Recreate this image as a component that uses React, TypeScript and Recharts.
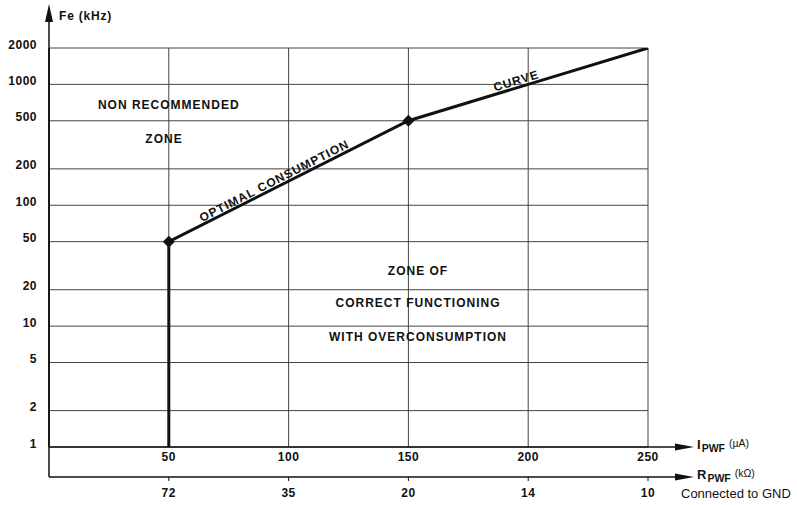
import React from "react";
import { ComposedChart, Line, XAxis, YAxis, CartesianGrid, ReferenceDot } from "recharts";

// I_PWF (µA) vs Fe (kHz), optimal consumption curve
const iPwf = [50, 50, 150, 250];
const feKhz = [1, 50, 500, 2000];
const marked = [false, true, true, false];

const xTicks = [50, 100, 150, 200, 250];
const rPwfLabels = ["72", "35", "20", "14", "10"];
const yTicks = [1, 2, 5, 10, 20, 50, 100, 200, 500, 1000, 2000];

const data = iPwf.map((i, k) => ({ i, fe: feKhz[k], mark: marked[k] }));

const W = 797;
const H = 505;
const M = { top: 48, right: 149, left: 0, bottom: 0 };
const Y_AXIS_W = 49;
const X1_H = 30;
const X2_H = 28;
const LEFT = M.left + Y_AXIS_W;
const RIGHT = W - M.right;
const BOTTOM = H - M.bottom - X1_H - X2_H;
const AXIS2 = BOTTOM + X1_H;

const FONT = '"Liberation Sans", Arial, Helvetica, sans-serif';
const INK = "#111";

const textStyle = {
  fontFamily: FONT,
  fontWeight: 700,
  fontSize: 12,
  fill: INK,
};

function YTick({ x, y, payload }: any) {
  return (
    <text x={x} y={y + 0.5} textAnchor="end" style={{ ...textStyle, letterSpacing: 0.5 }}>
      {payload.value}
    </text>
  );
}

function XTick({ x, y, payload }: any) {
  return (
    <text x={x} y={y + 14} textAnchor="middle" style={{ ...textStyle, letterSpacing: 0.5 }}>
      {payload.value}
    </text>
  );
}

function RTick({ x, y, payload }: any) {
  const idx = xTicks.indexOf(payload.value);
  return (
    <text x={x} y={y + 16} textAnchor="middle" style={{ ...textStyle, letterSpacing: 0.5 }}>
      {rPwfLabels[idx]}
    </text>
  );
}

function Diamond({ cx, cy, payload, index }: any) {
  if (!payload || !payload.mark) return <g key={`d${index}`} />;
  const s = 6;
  return (
    <path
      key={`d${index}`}
      d={`M${cx},${cy - s}L${cx + s},${cy}L${cx},${cy + s}L${cx - s},${cy}Z`}
      fill={INK}
    />
  );
}

function note(text: string, angle = 0) {
  return (props: any) => {
    const vb = props.viewBox || { x: 0, y: 0, width: 0, height: 0 };
    const cx = vb.x + (vb.width || 0) / 2;
    const cy = vb.y + (vb.height || 0) / 2;
    return (
      <text
        x={cx}
        y={cy}
        textAnchor="middle"
        dominantBaseline="central"
        transform={angle ? `rotate(${angle} ${cx} ${cy})` : undefined}
        style={{ ...textStyle, letterSpacing: 1 }}
      >
        {text}
      </text>
    );
  };
}

export default function App() {
  return (
    <div style={{ position: "relative", width: W, height: H, background: "#fff" }}>
      <style>{`body{margin:0;background:#fff}`}</style>
      <ComposedChart width={W} height={H} data={data} margin={M}>
        <CartesianGrid stroke="#444" strokeWidth={1} />
        <XAxis
          dataKey="i"
          type="number"
          domain={[0, 250]}
          ticks={xTicks}
          height={X1_H}
          tickLine={false}
          tickSize={0}
          tickMargin={0}
          axisLine={{ stroke: INK, strokeWidth: 1.5 }}
          tick={<XTick />}
          interval={0}
        />
        <XAxis
          xAxisId="r"
          dataKey="i"
          type="number"
          domain={[0, 250]}
          ticks={xTicks}
          height={X2_H}
          tickSize={4}
          tickMargin={0}
          tickLine={{ stroke: INK }}
          axisLine={{ stroke: INK, strokeWidth: 1.5 }}
          tick={<RTick />}
          interval={0}
        />
        <YAxis
          scale="log"
          domain={[1, 2000]}
          ticks={yTicks}
          width={Y_AXIS_W}
          tickLine={false}
          tickSize={0}
          tickMargin={12}
          axisLine={{ stroke: INK, strokeWidth: 1.5 }}
          tick={<YTick />}
          interval={0}
          allowDataOverflow
        />
        <Line
          dataKey="fe"
          type="linear"
          stroke={INK}
          strokeWidth={3}
          dot={Diamond}
          activeDot={false}
          isAnimationActive={false}
        />
        <ReferenceDot x={50} y={680} r={0} stroke="none" fill="none" label={note("NON RECOMMENDED")} />
        <ReferenceDot x={48} y={350} r={0} stroke="none" fill="none" label={note("ZONE")} />
        <ReferenceDot x={94} y={159} r={0} stroke="none" fill="none" label={note("OPTIMAL CONSUMPTION", -27)} />
        <ReferenceDot x={195} y={1070} r={0} stroke="none" fill="none" label={note("CURVE", -17)} />
        <ReferenceDot x={154} y={28.5} r={0} stroke="none" fill="none" label={note("ZONE OF")} />
        <ReferenceDot x={154} y={15.5} r={0} stroke="none" fill="none" label={note("CORRECT FUNCTIONING")} />
        <ReferenceDot x={154} y={8.1} r={0} stroke="none" fill="none" label={note("WITH OVERCONSUMPTION")} />
      </ComposedChart>
      <svg
        width={W}
        height={H}
        style={{ position: "absolute", left: 0, top: 0, pointerEvents: "none" }}
      >
        {/* axis extensions and arrows */}
        <line x1={LEFT} y1={16} x2={LEFT} y2={AXIS2} stroke={INK} strokeWidth={1.5} />
        <path d={`M${LEFT},4L${LEFT + 4},22L${LEFT - 4},22Z`} fill={INK} />
        <line x1={RIGHT} y1={BOTTOM} x2={680} y2={BOTTOM} stroke={INK} strokeWidth={1.5} />
        <path d={`M694,${BOTTOM}L675,${BOTTOM - 3.5}L675,${BOTTOM + 3.5}Z`} fill={INK} />
        <line x1={RIGHT} y1={AXIS2} x2={680} y2={AXIS2} stroke={INK} strokeWidth={1.5} />
        <path d={`M694,${AXIS2}L675,${AXIS2 - 3.5}L675,${AXIS2 + 3.5}Z`} fill={INK} />
        <text x={59} y={19.5} style={{ ...textStyle, fontSize: 12, letterSpacing: 0.8 }}>
          Fe (kHz)
        </text>
        <text x={697} y={449} style={{ ...textStyle, fontSize: 13 }}>
          I<tspan fontSize={10.5} dy={3} dx={1}>PWF</tspan>
          <tspan fontSize={10.5} fontWeight={400} dy={-5} dx={4}>(µA)</tspan>
        </text>
        <text x={697} y={479} style={{ ...textStyle, fontSize: 13 }}>
          R<tspan fontSize={10.5} dy={3} dx={1}>PWF</tspan>
          <tspan fontSize={10.5} fontWeight={400} dy={-5} dx={4}>(kΩ)</tspan>
        </text>
        <text x={681} y={498} style={{ ...textStyle, fontWeight: 400, fontSize: 13 }}>
          Connected to GND
        </text>
      </svg>
    </div>
  );
}
